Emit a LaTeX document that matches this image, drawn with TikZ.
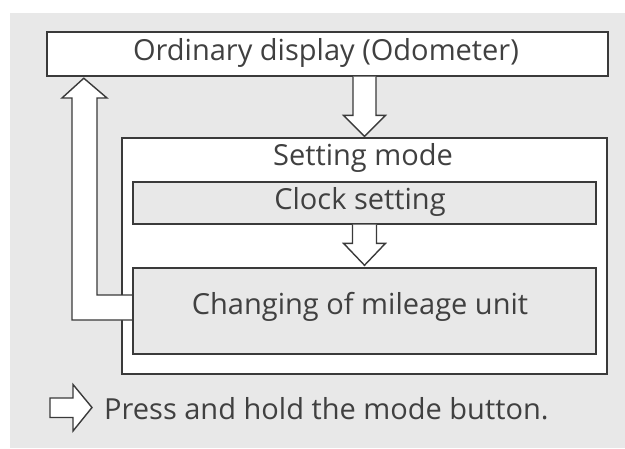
\documentclass[tikz,border=0pt]{standalone}
\usepackage{fontspec}
\setmainfont{Open Sans}
\usetikzlibrary{calc}
\definecolor{bg}{HTML}{E8E8E8}
\definecolor{ln}{HTML}{3A3A3A}
\definecolor{tx}{HTML}{404040}
\begin{document}
\begin{tikzpicture}[x=1pt,y=-1pt,
  box/.style={draw=ln,line width=1.4pt,inner sep=0pt,text=tx,font=\fontsize{29}{31}\selectfont},
  lbl/.style={inner sep=0pt,text=tx,font=\fontsize{29}{31}\selectfont},
  blk/.style={draw=ln,fill=white,line width=1.4pt,line join=miter}]
\useasboundingbox (0,0) rectangle (625,448);
\fill[white] (0,0) rectangle (625,448);
\fill[bg] (10,13) rectangle (625,448);
% boxes
\node[box,fill=white,minimum width=561pt,minimum height=44pt] (odo) at (327.5,54) {};
\node[lbl] (odotxt) at (326,53) {Ordinary display (Odometer)};
\node[box,fill=white,minimum width=485pt,minimum height=236pt] (setting) at (364.5,256) {};
\node[lbl] (smode) at (363,158) {Setting mode};
\node[box,fill=bg,minimum width=463pt,minimum height=42pt] (clock) at (364.5,203) {};
\node[lbl] (clocktxt) at (360,202) {Clock setting};
% return arrow (drawn before the last box)
\coordinate (rtip) at ($(odo.south west)+(37.5,1.5)$);
\coordinate (rend) at (133,295);
\fill[white] (rend) -- (97,295) -- (97,98) -- (107,98) -- (rtip) -- (62,98) -- (72,98) -- (72,320) -- (133,320) -- cycle;
\draw[draw=ln,line width=1.4pt,line join=miter] (rend) -- (97,295) -- (97,98) -- (107,98) -- (rtip) -- (62,98) -- (72,98) -- (72,320) -- (133,320);
\node[box,fill=bg,minimum width=463pt,minimum height=86pt] (change) at (364.5,311) {};
\node[lbl] (changetxt) at (360,307) {Changing of mileage unit};
% down arrows
\coordinate (a1s) at (odo.south -| setting.north);
\coordinate (a1e) at (setting.north);
\draw[blk] ($(a1s)+(-11.5,0)$) -- ($(a1e)+(-11.5,-22)$) -- ($(a1e)+(-21,-22)$) -- ($(a1e)+(0,-1)$) -- ($(a1e)+(21,-22)$) -- ($(a1e)+(11.5,-22)$) -- ($(a1s)+(11.5,0)$);
\coordinate (a2s) at (clock.south);
\coordinate (a2e) at (change.north);
\draw[blk] ($(a2s)+(-12,0)$) -- ($(a2e)+(-12,-24)$) -- ($(a2e)+(-21,-24)$) -- ($(a2e)+(0,-2)$) -- ($(a2e)+(21,-24)$) -- ($(a2e)+(12,-24)$) -- ($(a2s)+(12,0)$);
% legend
\coordinate (lg) at (50,407.5);
\draw[blk] (lg) ++(0,-9.5) -- ++(23,0) -- ++(0,-13.5) -- (92,407.5) -- (73,431) -- ++(0,-13.5) -- ++(-23,0) -- cycle;
\node[lbl,anchor=west] (legend) at (104,409) {Press and hold the mode button.};
\end{tikzpicture}
\end{document}
